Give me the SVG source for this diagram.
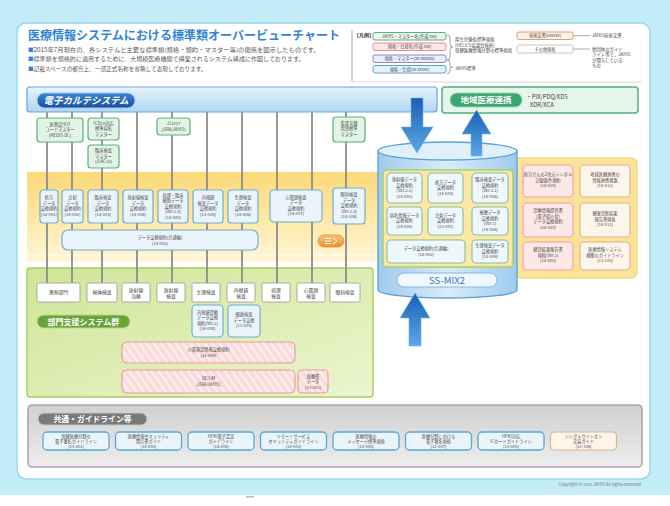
<svg xmlns="http://www.w3.org/2000/svg" width="670" height="506" viewBox="0 0 670 506">
<defs>
  <linearGradient id="gEmr" x1="0" y1="0" x2="0" y2="1"><stop offset="0" stop-color="#e6f3fc"/><stop offset="1" stop-color="#afd6f2"/></linearGradient>
  <linearGradient id="gPill" x1="0" y1="0" x2="0" y2="1"><stop offset="0" stop-color="#3a86d6"/><stop offset="1" stop-color="#1a4f9e"/></linearGradient>
  <linearGradient id="gYel" x1="0" y1="0" x2="0" y2="1"><stop offset="0" stop-color="#fcd978"/><stop offset="0.55" stop-color="#fde9a8"/><stop offset="1" stop-color="#fff6d8"/></linearGradient>
  <linearGradient id="gGreen" x1="0" y1="0" x2="1" y2="1"><stop offset="0" stop-color="#cfe596"/><stop offset="1" stop-color="#ecf5cf"/></linearGradient>
  <linearGradient id="gGray" x1="0" y1="0" x2="0" y2="1"><stop offset="0" stop-color="#d0d0d0"/><stop offset="1" stop-color="#ededed"/></linearGradient>
  <linearGradient id="gCyl" x1="0" y1="0" x2="1" y2="0"><stop offset="0" stop-color="#9fcbee"/><stop offset="0.5" stop-color="#d8ecfa"/><stop offset="1" stop-color="#9fcbee"/></linearGradient>
  <linearGradient id="gArrow" x1="0" y1="0" x2="0" y2="1"><stop offset="0" stop-color="#1c5fb5"/><stop offset="1" stop-color="#5aa8e6"/></linearGradient>
  <linearGradient id="gArrowUp" x1="0" y1="1" x2="0" y2="0"><stop offset="0" stop-color="#5aa8e6"/><stop offset="1" stop-color="#1c5fb5"/></linearGradient>
  <linearGradient id="gOrange" x1="0" y1="0" x2="0" y2="1"><stop offset="0" stop-color="#f8c27a"/><stop offset="1" stop-color="#f0932f"/></linearGradient>
  <pattern id="stripe" width="6" height="6" patternUnits="userSpaceOnUse" patternTransform="rotate(-35)">
    <rect width="6" height="6" fill="#fbdada"/>
    <rect width="2.2" height="6" fill="#fdf0f0"/>
  </pattern>
  <style>
    text{font-family:"Noto Sans CJK JP","Noto Sans CJK SC","Noto Sans",sans-serif}
    .s{font-size:4.2px;fill:#4a4a4a;text-anchor:middle}
    .m{font-size:4.8px;fill:#3a3a3a;text-anchor:middle}
    .mst{fill:#e3f3e6;stroke:#58b07c;stroke-width:1.2}
    .dat{fill:#eaf5fb;stroke:#6eaed0;stroke-width:1.2}
    .cyl{fill:#eef7fb;stroke:#7fbfa8;stroke-width:1.1}
    .dept{fill:#fff;stroke:#a0a0a0;stroke-width:0.9}
    .pk{fill:#fce8e6;stroke:#ee9f9a;stroke-width:1.1}
    .tn{fill:#fdf5ea;stroke:#d9b38c;stroke-width:1.1}
    .gl{fill:#eaf5fb;stroke:#5ba5d6;stroke-width:1.3}
    .str{fill:url(#stripe);stroke:#e89a9a;stroke-width:1.1}
    .vline{stroke:#8c8c8c;stroke-width:1.8}
    .lbl{fill:#fff;font-weight:bold;text-anchor:middle}
  </style>
</defs>

<!-- backdrop and white card -->
<rect x="0" y="0" width="670" height="506" fill="#ffffff"/>
<rect x="0" y="0" width="670" height="495" fill="#c3ecf7"/>
<rect x="17" y="23" width="633" height="456" rx="9" fill="#ffffff" stroke="#95d7ec" stroke-width="1.5"/>
<rect x="246" y="496" width="8" height="1.5" fill="#bbbbbb"/>

<!-- heading -->
<g id="heading">
  <text x="28" y="40" font-size="12" font-weight="bold" fill="#2f84d6" textLength="312" lengthAdjust="spacingAndGlyphs">医療情報システムにおける標準類オーバービューチャート</text>
  <g font-size="5.5" fill="#555">
    <text x="28" y="51.5"><tspan fill="#2f84d6">■</tspan><tspan textLength="286" lengthAdjust="spacingAndGlyphs">2015年7月現在の、各システムと主要な標準類(規格・規約・マスター等)の関係を図示したものです。</tspan></text>
    <text x="28" y="61"><tspan fill="#2f84d6">■</tspan><tspan textLength="271" lengthAdjust="spacingAndGlyphs">標準類を規格的に適用するために、大規模医療機関で構築されるシステム構成に作図しております。</tspan></text>
    <text x="28" y="70.5"><tspan fill="#2f84d6">■</tspan><tspan textLength="173" lengthAdjust="spacingAndGlyphs">記載スペースの都合上、一部正式名称を省略して表現しております。</tspan></text>
  </g>
</g>

<!-- legend -->
<g id="legend">
  <line x1="352" y1="30" x2="352" y2="81" stroke="#9a9a9a" stroke-width="0.9"/>
  <line x1="352" y1="82" x2="642" y2="82" stroke="#d2d2d2" stroke-width="0.8"/>
  <text x="354" y="37" font-size="5" font-weight="bold" fill="#333">【凡例】</text>
  <rect x="373" y="32.5" width="73" height="7.5" rx="2" fill="#eaf6ee" stroke="#5bb07c" stroke-width="1"/>
  <text class="s" x="409.5" y="37.8">JAHIS・マスター名(作成 xxx)</text>
  <rect x="373" y="43" width="73" height="7.5" rx="2" fill="#fde8e8" stroke="#e8898a" stroke-width="1"/>
  <text class="s" x="409.5" y="48.3">規格・仕様名(作成 xxx)</text>
  <rect x="373" y="55" width="73" height="7.5" rx="2" fill="#eceefa" stroke="#8a86c9" stroke-width="1"/>
  <text class="s" x="409.5" y="60.3">規格・マスター(xx-xxxxxx)</text>
  <rect x="373" y="65.5" width="73" height="7.5" rx="2" fill="#e6f3fb" stroke="#5ba5d6" stroke-width="1"/>
  <text class="s" x="409.5" y="70.8">規格・仕様(xx-xxxxx)</text>
  <path d="M447,35 q3,0 3,3 v6 q0,3 2.5,3 q-2.5,0 -2.5,3 v7 q0,3 -3,3" fill="none" stroke="#888" stroke-width="0.8"/>
  <path d="M447,60 q3,0 3,2.5 v2.5 q0,2 2.5,2 q-2.5,0 -2.5,2 v2 q0,2.5 -3,2.5" fill="none" stroke="#888" stroke-width="0.8"/>
  <g font-size="4.4" fill="#444">
    <text x="455" y="41">厚生労働省標準規格</text>
    <text x="455" y="46.5">(HELICS協議会採択)</text>
    <text x="455" y="52">保健医療情報分野の標準規格</text>
    <text x="455" y="70">JAHIS標準</text>
  </g>
  <rect x="517" y="32" width="56" height="7.5" rx="2" fill="#fdf1e6" stroke="#d7a27a" stroke-width="1"/>
  <text class="s" x="545" y="37.3">技術文書(xxxxxx)</text>
  <line x1="573" y1="35.7" x2="590" y2="35.7" stroke="#888" stroke-width="0.7"/>
  <rect x="517" y="45" width="56" height="8" rx="2" fill="#ffffff" stroke="#c4c4c4" stroke-width="1"/>
  <text class="s" x="545" y="50.5">その他規格</text>
  <line x1="573" y1="49" x2="590" y2="49" stroke="#888" stroke-width="0.7"/>
  <g font-size="4.4" fill="#444">
    <text x="592" y="37.3">JAHIS技術文書</text>
    <text x="592" y="50.5">他団体のガイド</text>
    <text x="592" y="56">ライン等で、JAHIS</text>
    <text x="592" y="61.5">が関与している</text>
    <text x="592" y="67">もの</text>
  </g>
</g>

<!-- background panels -->
<rect id="band-exchange" x="27" y="172" width="362" height="90" fill="url(#gYel)"/>
<line x1="27" y1="255" x2="389" y2="255" stroke="#ffffff" stroke-width="1.2" opacity="0.8"/>
<rect id="band-right" x="512" y="158" width="125" height="120" rx="5" fill="#fde39a" stroke="#f3cc6a" stroke-width="1"/>
<rect id="panel-dept" x="27" y="268" width="346" height="129" rx="3" fill="url(#gGreen)" stroke="#a9cc5e" stroke-width="1.4"/>
<rect id="panel-common" x="28" y="405" width="614" height="62" rx="4" fill="url(#gGray)" stroke="#a8a8a8" stroke-width="1.6"/>

<!-- vertical links from the EMR bar to each department -->
<g id="connectors">
  <line class="vline" x1="47" y1="112" x2="47" y2="283"/>
  <line class="vline" x1="72" y1="112" x2="72" y2="283"/>
  <line class="vline" x1="102" y1="112" x2="102" y2="283"/>
  <line class="vline" x1="137" y1="112" x2="137" y2="283"/>
  <line class="vline" x1="172" y1="112" x2="172" y2="283"/>
  <line class="vline" x1="207" y1="112" x2="207" y2="283"/>
  <line class="vline" x1="242" y1="112" x2="242" y2="283"/>
  <line class="vline" x1="277" y1="112" x2="277" y2="283"/>
  <line class="vline" x1="312" y1="112" x2="312" y2="283"/>
  <line class="vline" x1="346" y1="112" x2="346" y2="283"/>
</g>

<!-- electronic medical record system -->
<g id="emr">
  <rect x="27" y="87" width="410" height="25" rx="3" fill="url(#gEmr)" stroke="#6aa6d8" stroke-width="1.2"/>
  <rect x="37" y="93" width="98" height="15" rx="7.5" fill="url(#gPill)" stroke="#a8cbee" stroke-width="1"/>
  <text class="lbl" x="86" y="104" font-size="9.5" font-style="italic">電子カルテシステム</text>
</g>

<!-- master code sets -->
<g id="master-hot"><rect class="mst" x="37" y="118" width="46" height="24" rx="3"/>
  <text class="s" x="60" y="125.5">医薬品HOT</text><text class="s" x="60" y="131">コードマスター</text><text class="s" x="60" y="136.5">(MEDIS-DC)</text></g>
<g id="master-byomei"><rect class="mst" x="88" y="118" width="31" height="22" rx="3"/>
  <text class="s" x="103.5" y="124.5">ICD10対応</text><text class="s" x="103.5" y="130">標準病名</text><text class="s" x="103.5" y="135.5">マスター</text></g>
<g id="master-jlac"><rect class="mst" x="88" y="145" width="31" height="23" rx="3"/>
  <text class="s" x="103.5" y="152">臨床検査</text><text class="s" x="103.5" y="157.5">マスター</text><text class="s" x="103.5" y="163">(JLAC10)</text></g>
<g id="master-jj1017"><rect class="mst" x="157" y="118" width="33" height="17" rx="3"/>
  <text class="s" x="173.5" y="125">JJ1017</text><text class="s" x="173.5" y="130.5">(JIRA/JAHIS)</text></g>
<g id="master-kango"><rect class="mst" x="333" y="117" width="32" height="25" rx="3"/>
  <text class="s" x="349" y="124.5">看護実践</text><text class="s" x="349" y="130">用語標準</text><text class="s" x="349" y="135.5">マスター</text></g>

<!-- data exchange conventions -->
<g id="dx-shoho"><rect class="dat" x="40" y="190" width="18" height="33" rx="3"/>
  <text class="s" x="49" y="199">処方</text><text class="s" x="49" y="204.5">データ</text><text class="s" x="49" y="210">交換規約</text><text class="s" x="49" y="215.5" font-size="3.4">(14-001)</text></g>
<g id="dx-chusha"><rect class="dat" x="62" y="190" width="21" height="33" rx="3"/>
  <text class="s" x="72.5" y="199">注射</text><text class="s" x="72.5" y="204.5">データ</text><text class="s" x="72.5" y="210">交換規約</text><text class="s" x="72.5" y="215.5" font-size="3.6">(14-002)</text></g>
<g id="dx-kentai"><rect class="dat" x="88" y="190" width="30" height="33" rx="3"/>
  <text class="s" x="103" y="199">臨床検査</text><text class="s" x="103" y="204.5">データ</text><text class="s" x="103" y="210">交換規約</text><text class="s" x="103" y="215.5">(14-003)</text></g>
<g id="dx-hoshasen"><rect class="dat" x="123" y="190" width="30" height="33" rx="3"/>
  <text class="s" x="138" y="199">放射線検査</text><text class="s" x="138" y="204.5">データ</text><text class="s" x="138" y="210">交換規約</text><text class="s" x="138" y="215.5">(14-004)</text></g>
<g id="dx-byori"><rect class="dat" x="158" y="190" width="30" height="33" rx="3"/>
  <text class="s" x="173" y="196.5">病理・臨床</text><text class="s" x="173" y="202">細胞データ</text><text class="s" x="173" y="207.5">交換規約</text><text class="s" x="173" y="213">(Ver.2.0)</text><text class="s" x="173" y="218.5">(14-005)</text></g>
<g id="dx-naishikyo"><rect class="dat" x="193" y="190" width="30" height="33" rx="3"/>
  <text class="s" x="208" y="199">内視鏡</text><text class="s" x="208" y="204.5">検査データ</text><text class="s" x="208" y="210">交換規約</text><text class="s" x="208" y="215.5">(13-008)</text></g>
<g id="dx-seiri"><rect class="dat" x="228" y="190" width="30" height="33" rx="3"/>
  <text class="s" x="243" y="199">生理検査</text><text class="s" x="243" y="204.5">データ</text><text class="s" x="243" y="210">交換規約</text><text class="s" x="243" y="215.5">(14-006)</text></g>
<g id="dx-shindenzu"><rect class="dat" x="270" y="190" width="52" height="32" rx="4"/>
  <text class="s" x="296" y="198.5">心電図検査</text><text class="s" x="296" y="204">データ</text><text class="s" x="296" y="209.5">交換規約</text><text class="s" x="296" y="215">(14-007)</text></g>
<g id="dx-ganka"><rect class="dat" x="333" y="188" width="32" height="36" rx="3"/>
  <text class="s" x="349" y="196">眼科検査</text><text class="s" x="349" y="201.5">データ</text><text class="s" x="349" y="207">交換規約</text><text class="s" x="349" y="212.5">(Ver.1.0)</text><text class="s" x="349" y="218">(14-106)</text></g>
<g id="dx-common"><rect class="dat" x="62" y="230" width="196" height="20" rx="6"/>
  <text class="s" x="160" y="239">データ交換規約(共通編)</text><text class="s" x="160" y="245">(14-002)</text></g>
<g id="badge"><rect x="318" y="235" width="26" height="12" rx="6" fill="url(#gOrange)" stroke="#e58a2a" stroke-width="0.8"/>
  <path d="M325,238.5 h6 M325,241 h6 M325,243.5 h6 M333,238 l4,3 l-4,3" fill="none" stroke="#ffffff" stroke-width="1"/></g>

<!-- SS-MIX2 storage -->
<g id="ssmix2">
  <path d="M378,151 V290 A69.5,8 0 0 0 517,290 V151 Z" fill="url(#gCyl)" stroke="#5a9fd8" stroke-width="1.3"/>
  <ellipse cx="447.5" cy="151" rx="69.5" ry="9" fill="#e1f1fb" stroke="#5a9fd8" stroke-width="1.3"/>
  <rect x="383" y="170" width="130" height="97" rx="4" fill="#fde7a2" stroke="#a4cf70" stroke-width="1.5"/>
  <rect x="397" y="273" width="100" height="14" rx="7" fill="#f1f8fd" stroke="#7fb6e2" stroke-width="1"/>
  <text x="447" y="283.5" font-size="9.5" fill="#2a78d0" text-anchor="middle">SS-MIX2</text>
</g>
<g id="ss-hoshasen"><rect class="cyl" x="387" y="173" width="35" height="30" rx="4"/>
  <text class="s" x="404.5" y="181">放射線データ</text><text class="s" x="404.5" y="186.5">交換規約</text><text class="s" x="404.5" y="192">(Ver.2.2)</text><text class="s" x="404.5" y="197.5">(14-001)</text></g>
<g id="ss-shoho"><rect class="cyl" x="428" y="173" width="35" height="30" rx="4"/>
  <text class="s" x="445.5" y="183.5">処方データ</text><text class="s" x="445.5" y="189">交換規約</text><text class="s" x="445.5" y="194.5">(14-003)</text></g>
<g id="ss-kentai"><rect class="cyl" x="472" y="173" width="36" height="30" rx="4"/>
  <text class="s" x="490" y="181">臨床検査データ</text><text class="s" x="490" y="186.5">交換規約</text><text class="s" x="490" y="192">(Ver.3.1)</text><text class="s" x="490" y="197.5">(14-004)</text></g>
<g id="ss-byomei"><rect class="cyl" x="387" y="207" width="35" height="28" rx="4"/>
  <text class="s" x="404.5" y="216.5">病名情報データ</text><text class="s" x="404.5" y="222">交換規約</text><text class="s" x="404.5" y="227.5">(14-005)</text></g>
<g id="ss-chusha"><rect class="cyl" x="428" y="207" width="35" height="28" rx="4"/>
  <text class="s" x="445.5" y="216.5">注射データ</text><text class="s" x="445.5" y="222">交換規約</text><text class="s" x="445.5" y="227.5">(13-001)</text></g>
<g id="ss-kenreki"><rect class="cyl" x="472" y="207" width="36" height="28" rx="4"/>
  <text class="s" x="490" y="214">検歴データ</text><text class="s" x="490" y="219.5">交換規約</text><text class="s" x="490" y="225">(Ver.1)</text><text class="s" x="490" y="230.5">(14-006)</text></g>
<g id="ss-common"><rect class="cyl" x="387" y="240" width="78" height="23" rx="4"/>
  <text class="s" x="426" y="250">データ交換規約(共通編)</text><text class="s" x="426" y="256">(14-002)</text></g>
<g id="ss-seiri"><rect class="cyl" x="472" y="240" width="36" height="23" rx="4"/>
  <text class="s" x="490" y="247">生理検査データ</text><text class="s" x="490" y="252.5">交換規約</text><text class="s" x="490" y="258">(13-009)</text></g>

<!-- regional cooperation -->
<g id="regional">
  <rect x="442" y="87" width="196" height="26" rx="3" fill="#e6f5ea" stroke="#4cb37b" stroke-width="1.5"/>
  <rect x="450" y="93" width="72" height="14" rx="7" fill="#3aa86c" stroke="#9ad3b0" stroke-width="1"/>
  <text class="lbl" x="486" y="103.3" font-size="8.5">地域医療連携</text>
  <text x="526" y="98.5" font-size="5.8" fill="#444">・PIX/PDQ/XDS</text>
  <text x="530" y="106.5" font-size="5.8" fill="#444">XDR/XCA</text>
</g>

<!-- regional / document conventions -->
<g id="rg-qr"><rect class="pk" x="523" y="165" width="50" height="32" rx="4"/>
  <text class="s" x="548" y="176">処方せんの2次元シンボル</text><text class="s" x="548" y="181.5">記録条件規約</text><text class="s" x="548" y="187">(14-005)</text></g>
<g id="rg-kiban"><rect class="tn" x="580" y="165" width="50" height="32" rx="4"/>
  <text class="s" x="605" y="176">地域医療連携の</text><text class="s" x="605" y="181.5">情報連携基盤</text><text class="s" x="605" y="187">(14-013)</text></g>
<g id="rg-shokai"><rect class="pk" x="523" y="203" width="50" height="34" rx="4"/>
  <text class="s" x="548" y="212">診療情報提供書</text><text class="s" x="548" y="217.5">(電子紹介状)</text><text class="s" x="548" y="223">データ交換規約</text><text class="s" x="548" y="228.5">(14-007)</text></g>
<g id="rg-kenshin"><rect class="tn" x="580" y="203" width="50" height="34" rx="4"/>
  <text class="s" x="605" y="215">健康診断結果</text><text class="s" x="605" y="220.5">報告書規格</text><text class="s" x="605" y="226">(14-011)</text></g>
<g id="rg-tokutei"><rect class="pk" x="523" y="242" width="50" height="28" rx="4"/>
  <text class="s" x="548" y="251">健診結果報告書</text><text class="s" x="548" y="256.5">規格(Ver.2)</text><text class="s" x="548" y="262">(14-003)</text></g>
<g id="rg-guide"><rect class="tn" x="580" y="242" width="50" height="28" rx="4"/>
  <text class="s" x="605" y="251">医療情報システム</text><text class="s" x="605" y="256.5">構築のガイドライン</text><text class="s" x="605" y="262">(13-105)</text></g>

<!-- departmental systems -->
<g id="dept-yakuzai"><rect class="dept" x="37" y="283" width="43" height="19" rx="1.5"/><text class="m" x="58.5" y="294.3">薬剤部門</text></g>
<g id="dept-kentai"><rect class="dept" x="87" y="283" width="30" height="19" rx="1.5"/><text class="m" x="102" y="294.3">検体検査</text></g>
<g id="dept-chiryo"><rect class="dept" x="122" y="283" width="28" height="19" rx="1.5"/><text class="m" x="136" y="291.5">放射線</text><text class="m" x="136" y="297.5">治療</text></g>
<g id="dept-hoshasen"><rect class="dept" x="157" y="283" width="28" height="19" rx="1.5"/><text class="m" x="171" y="291.5">放射線</text><text class="m" x="171" y="297.5">検査</text></g>
<g id="dept-seiri"><rect class="dept" x="192" y="283" width="28" height="19" rx="1.5"/><text class="m" x="206" y="294.3">生理検査</text></g>
<g id="dept-naishikyo"><rect class="dept" x="227" y="283" width="28" height="19" rx="1.5"/><text class="m" x="241" y="291.5">内視鏡</text><text class="m" x="241" y="297.5">検査</text></g>
<g id="dept-byori"><rect class="dept" x="262" y="283" width="28" height="19" rx="1.5"/><text class="m" x="276" y="291.5">病理</text><text class="m" x="276" y="297.5">検査</text></g>
<g id="dept-shindenzu"><rect class="dept" x="297" y="283" width="28" height="19" rx="1.5"/><text class="m" x="311" y="291.5">心電図</text><text class="m" x="311" y="297.5">検査</text></g>
<g id="dept-ganka"><rect class="dept" x="330" y="283" width="30" height="19" rx="1.5"/><text class="m" x="345" y="294.3">眼科検査</text></g>

<g id="dept-label"><rect x="37" y="315" width="93" height="13" rx="6.5" fill="#6aa33a" stroke="#b9d98e" stroke-width="1"/>
  <text class="lbl" x="83.5" y="324.6" font-size="8">部門支援システム群</text></g>
<g id="dp-naishikyo"><rect class="dat" x="192" y="305" width="31" height="32" rx="4"/>
  <text class="s" x="207.5" y="313.5">内視鏡診療</text><text class="s" x="207.5" y="319">データ交換</text><text class="s" x="207.5" y="324.5">規約(Ver.2)</text><text class="s" x="207.5" y="330">(14-008)</text></g>
<g id="dp-saikin"><rect class="dat" x="228" y="305" width="32" height="32" rx="4"/>
  <text class="s" x="244" y="316">細菌検査</text><text class="s" x="244" y="321.5">データ交換</text><text class="s" x="244" y="327">(13-005)</text></g>
<g id="dp-kaigo"><rect class="str" x="122" y="342" width="173" height="21" rx="5"/>
  <text class="s" x="208.5" y="351">介護施設情報交換規約</text><text class="s" x="208.5" y="357">(14-009)</text></g>
<g id="dp-dicom"><rect class="str" x="122" y="370" width="173" height="23" rx="5"/>
  <text class="s" x="208.5" y="380">DICOM</text><text class="s" x="208.5" y="386">(JIRA/JAHIS)</text></g>
<g id="dp-iryohi"><rect class="str" x="298" y="370" width="30" height="23" rx="4"/>
  <text class="s" x="313" y="377.5">医療費</text><text class="s" x="313" y="383">データ</text><text class="s" x="313" y="388.5">(13-001)</text></g>

<!-- common guidelines -->
<g id="common-label"><rect x="38" y="413" width="109" height="12" rx="6" fill="#7a7a7a" stroke="#c4c4c4" stroke-width="1"/>
  <text class="lbl" x="92.5" y="422" font-size="7.8">共通・ガイドライン等</text></g>
<g id="gl-1"><rect class="gl" x="43" y="432" width="66" height="18" rx="4"/>
  <text class="s" x="76" y="437.5">保健医療分野の</text><text class="s" x="76" y="442.5">電子署名ガイドライン</text><text class="s" x="76" y="447.5">(15-001)</text></g>
<g id="gl-2"><rect class="gl" x="115.5" y="432" width="66" height="18" rx="4"/>
  <text class="s" x="148.5" y="437.5">医療情報セキュリティ</text><text class="s" x="148.5" y="442.5">開示書ガイド</text><text class="s" x="148.5" y="447.5">(14-005)</text></g>
<g id="gl-3"><rect class="gl" x="188" y="432" width="66" height="18" rx="4"/>
  <text class="s" x="221" y="437.5">HPKI電子認証</text><text class="s" x="221" y="442.5">ガイドライン</text><text class="s" x="221" y="447.5">(14-006)</text></g>
<g id="gl-4"><rect class="gl" x="260.5" y="432" width="66" height="18" rx="4"/>
  <text class="s" x="293.5" y="437.5">リモートサービス</text><text class="s" x="293.5" y="442.5">セキュリティガイドライン</text><text class="s" x="293.5" y="447.5">(14-003)</text></g>
<g id="gl-5"><rect class="gl" x="333" y="432" width="66" height="18" rx="4"/>
  <text class="s" x="366" y="437.5">医療情報の</text><text class="s" x="366" y="442.5">メッセージ標準規格</text><text class="s" x="366" y="447.5">(13-008)</text></g>
<g id="gl-6"><rect class="gl" x="405.5" y="432" width="66" height="18" rx="4"/>
  <text class="s" x="438.5" y="437.5">医療分野における</text><text class="s" x="438.5" y="442.5">電子署名規格</text><text class="s" x="438.5" y="447.5">(12-007)</text></g>
<g id="gl-7"><rect class="gl" x="478" y="432" width="66" height="18" rx="4"/>
  <text class="s" x="511" y="437.5">HPKI対応</text><text class="s" x="511" y="442.5">ICカードガイドライン</text><text class="s" x="511" y="447.5">(13-005)</text></g>
<g id="gl-8"><rect class="tn" x="550.5" y="432" width="66" height="18" rx="4"/>
  <text class="s" x="583.5" y="437.5">シングルサインオン</text><text class="s" x="583.5" y="442.5">実装ガイド</text><text class="s" x="583.5" y="447.5">(12-106)</text></g>

<!-- data flow arrows into and out of SS-MIX2 -->
<g id="flow-arrows" stroke="#6fb3ea" stroke-width="0.6">
  <path d="M411,98 H423 V127 H433 L417,153 L401,127 H411 Z" fill="url(#gArrow)"/>
  <path d="M471,156 V134 H462 L476.5,110 L491,134 H482 V156 Z" fill="url(#gArrowUp)"/>
  <path d="M409,346 V318 H400 L415,293 L430,318 H421 V346 Z" fill="url(#gArrowUp)"/>
</g>

<text x="642" y="486" font-size="4.2" fill="#6a7a88" text-anchor="end">Copyright © 2015 JAHIS All rights reserved.</text>
</svg>
